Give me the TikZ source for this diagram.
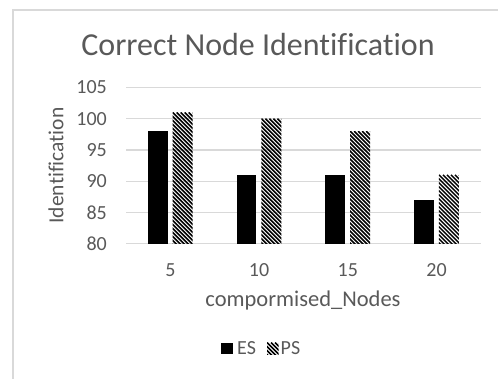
\documentclass[tikz,border=0pt]{standalone}
\usepackage{fontspec}
\setmainfont{Carlito}[Ligatures=NoCommon]
\definecolor{txtgray}{HTML}{595959}
\definecolor{gridgray}{HTML}{D9D9D9}
\definecolor{framegray}{HTML}{D9D9D9}
\tikzset{
  lbl/.style={text=txtgray, inner sep=0pt, font=\fontsize{20}{22}\selectfont},
  gridln/.style={draw=gridgray, line width=1.2pt},
  esbar/.style={fill=black},
  hatchln/.style={line width=1.5pt, black},
}
% y value -> vertical position (y axis points down)
\newcommand{\yv}[1]{243.5-(#1-80)*6.24}
% hatched bar: left x, right x, top y, bottom y
\newcommand{\hatchbar}[4]{%
  \pgfmathsetmacro{\hxa}{#1}\pgfmathsetmacro{\hxb}{#2}%
  \pgfmathsetmacro{\hya}{#3}\pgfmathsetmacro{\hyb}{#4}%
  \begin{scope}
    \clip (\hxa,\hya) rectangle (\hxb,\hyb);
    \foreach \k in {-200,-196,...,40}{
      \draw[hatchln] ({\hxa+\k},\hya) -- ++(200,200);
    }
  \end{scope}}
\begin{document}
\begin{tikzpicture}[x=1pt,y=-1pt]
\useasboundingbox (0,0) rectangle (498,378);
% chart frame
\draw[framegray, line width=2pt] (13,400) -- (13,9.5) -- (520,9.5);
% title
\node[lbl, font=\fontsize{32}{36}\selectfont] (title) at (258,45) {Correct Node Identification};
% gridlines and tick labels
\foreach \v in {80,85,...,105}{
  \draw[gridln] (126,{\yv{\v}}) -- (481,{\yv{\v}});
  \node[lbl, anchor=east] (t\v) at (107,{\yv{\v}}) {\v};
}
% y axis title
\node[lbl, rotate=90, font=\fontsize{21.5}{24}\selectfont] (ytitle) at (56,165.5) {Identification};
% bars
\foreach \i/\c/\es/\ps in {1/5/98/101, 2/10/91/100, 3/15/91/98, 4/20/87/91}{
  \pgfmathsetmacro{\cx}{126+88.75*(\i-0.5)}
  \fill[esbar] ({\cx-22.5},{\yv{\es}}) rectangle ({\cx-2.7},{\yv{80}});
  \hatchbar{\cx+2.3}{\cx+22.3}{\yv{\ps}}{\yv{80}}
  \node[lbl] (c\i) at (\cx,270) {\c};
}
% x axis title
\node[lbl, font=\fontsize{22.5}{25}\selectfont] (xtitle) at (303,300) {compormised\_Nodes};
% legend
\fill[esbar] (221,342.5) rectangle (232.5,354);
\node[lbl, anchor=west] (les) at (237,348) {ES};
\hatchbar{267}{278.5}{342.5}{354}
\node[lbl, anchor=west] (lps) at (280.5,348) {PS};
\end{tikzpicture}
\end{document}
